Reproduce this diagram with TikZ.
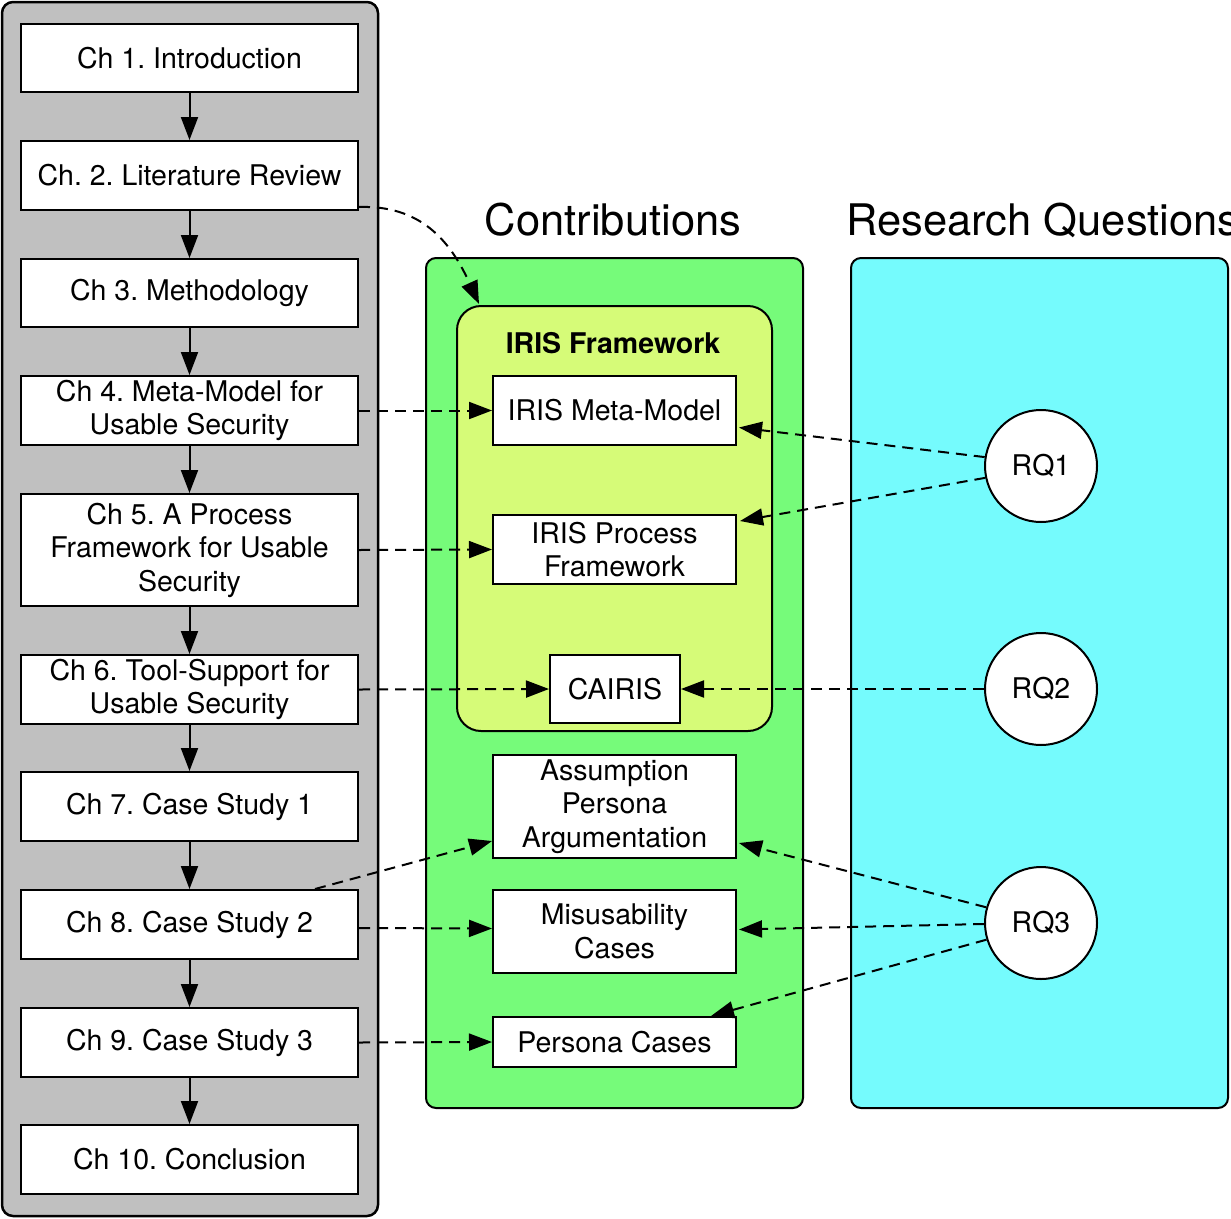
\documentclass[tikz,border=0pt]{standalone}
\usepackage{fontspec}
\setmainfont{TeX Gyre Heros}
\usetikzlibrary{arrows.meta,calc}
\definecolor{panelgray}{RGB}{192,192,192}
\definecolor{contgreen}{RGB}{118,251,122}
\definecolor{irisyellow}{RGB}{214,251,120}
\definecolor{rqcyan}{RGB}{117,251,253}
\newcommand{\bodyfont}{\frenchspacing\fontsize{28.5pt}{33.5pt}\selectfont}
\newcommand{\headfont}{\frenchspacing\fontsize{43.5pt}{48pt}\selectfont}
\begin{document}
\begin{tikzpicture}[x=1pt,y=-1pt,
  box/.style={draw, fill=white, line width=2pt, inner sep=0pt, align=center, font=\bodyfont},
  chap/.style={box, minimum width=337pt},
  contrib/.style={box, minimum width=243pt},
  rq/.style={draw, fill=white, circle, line width=2pt, minimum size=112pt, inner sep=0pt, font=\bodyfont},
  panel/.style={draw, line width=2.5pt, rounded corners=11pt, inner sep=0pt},
  flow/.style={line width=2pt, -{Triangle[length=23pt,width=17pt]}},
  link/.style={flow, dash pattern=on 11pt off 7pt},
  head/.style={font=\headfont, inner sep=0pt}
]
\useasboundingbox (0,0) rectangle (1231,1218);
% panels
\node[panel, fill=panelgray, minimum width=376pt, minimum height=1214pt] (leftpanel) at (190,609) {};
\node[panel, fill=contgreen, line width=2pt, rounded corners=10pt, minimum width=377pt, minimum height=850pt] (contpanel) at (614.5,683) {};
\node[panel, fill=rqcyan, line width=2pt, rounded corners=10pt, minimum width=377pt, minimum height=850pt] (rqpanel) at (1039.5,683) {};
\node[panel, fill=irisyellow, line width=2pt, rounded corners=24pt, minimum width=315pt, minimum height=425pt] (iris) at (614.5,518.5) {};
% headings
\node[head] (conthead) at (613,220) {Contributions};
\node[head, anchor=west] (rqhead) at (846,220) {Research Questions};
\node[font=\bodyfont\bfseries, inner sep=0pt] (iristitle) at (613,343) {IRIS Framework};
% chapters
\node[chap, minimum height=68pt] (ch1) at (189.5,58) {Ch 1. Introduction};
\node[chap, minimum height=69pt] (ch2) at (189.5,175.5) {Ch. 2. Literature Review};
\node[chap, minimum height=68pt] (ch3) at (189.5,293) {Ch 3. Methodology};
\node[chap, minimum height=69pt] (ch4) at (189.5,410.5) {Ch 4. Meta-Model for\\Usable Security};
\node[chap, minimum height=112pt] (ch5) at (189.5,550) {Ch 5. A Process\\Framework for Usable\\Security};
\node[chap, minimum height=69pt] (ch6) at (189.5,689.5) {Ch 6. Tool-Support for\\Usable Security};
\node[chap, minimum height=69pt] (ch7) at (189.5,806.5) {Ch 7. Case Study 1};
\node[chap, minimum height=69pt] (ch8) at (189.5,924.5) {Ch 8. Case Study 2};
\node[chap, minimum height=69pt] (ch9) at (189.5,1042.5) {Ch 9. Case Study 3};
\node[chap, minimum height=69pt] (ch10) at (189.5,1159.5) {Ch 10. Conclusion};
% contributions
\node[contrib, minimum height=69pt] (meta) at (614.5,410.5) {IRIS Meta-Model};
\node[contrib, minimum height=69pt] (proc) at (614.5,549.5) {IRIS Process\\Framework};
\node[box, minimum width=130pt, minimum height=68pt] (cairis) at (615,689) {CAIRIS};
\node[contrib, minimum height=103pt] (assump) at (614.5,806.5) {Assumption\\Persona\\Argumentation};
\node[contrib, minimum height=83pt] (misuse) at (614.5,931.5) {Misusability\\Cases};
\node[contrib, minimum height=50pt] (pcases) at (614.5,1042) {Persona Cases};
% research questions
\node[rq] (rq1) at (1041,466) {RQ1};
\node[rq] (rq2) at (1041,689) {RQ2};
\node[rq] (rq3) at (1041,923) {RQ3};
% chapter flow
\foreach \a/\b in {ch1/ch2,ch2/ch3,ch3/ch4,ch4/ch5,ch5/ch6,ch6/ch7,ch7/ch8,ch8/ch9,ch9/ch10}
  \draw[flow] (\a.south) -- (\b.north);
% chapter to contribution links
\coordinate (ch2out) at ($(ch2.east)+(0,31.5)$);
\coordinate (irisin) at ($(iris.north west)+(23,-1)$);
\draw[link] (ch2out) .. controls (420,205) and (450,240) .. (irisin);
\draw[link] (ch4.east) -- (meta.west);
\draw[link] (ch5.east) -- (proc.west);
\draw[link] (ch6.east) -- (cairis.west);
\coordinate (ch8top) at ($(ch8.north)+(125.5,0)$);
\coordinate (assumpin) at ($(assump.south west)+(0,-18)$);
\draw[link] (ch8top) -- (assumpin);
\coordinate (ch8out) at ($(ch8.east)+(0,3.5)$);
\coordinate (misusein) at ($(misuse.west)+(0,-3)$);
\draw[link] (ch8out) -- (misusein);
\draw[link] (ch9.east) -- (pcases.west);
% research question links
\coordinate (metain) at ($(meta.east)+(2,17)$);
\draw[link] (rq1.171) -- (metain);
\coordinate (procin) at ($(proc.north east)+(3,7)$);
\draw[link] (rq1.192) -- (procin);
\draw[link] (rq2.west) -- (cairis.east);
\coordinate (assumpin2) at ($(assump.south east)+(2,-16)$);
\draw[link] (rq3.164) -- (assumpin2);
\coordinate (misusein2) at ($(misuse.east)+(2,-2)$);
\draw[link] (rq3.181) -- (misusein2);
\coordinate (pcasesin) at ($(pcases.north east)+(-26,0)$);
\draw[link] (rq3.197) -- (pcasesin);
\end{tikzpicture}
\end{document}
